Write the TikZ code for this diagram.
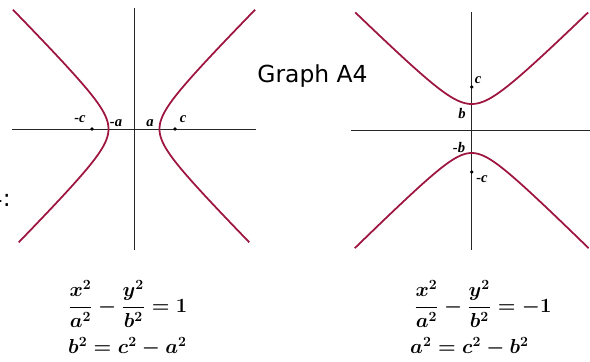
\documentclass[tikz,border=0pt]{standalone}
\usepackage{fontspec}
\usepackage{tikz}
\newfontfamily\grsans{DejaVu Sans}
\newfontfamily\grserif{Liberation Serif}
\definecolor{hypred}{RGB}{158,22,64}

\begin{document}
\begin{tikzpicture}[
    x=0.03cm, y=-0.03cm,
    axis/.style={draw=black!85, line width=0.7pt},
    curve/.style={draw=hypred, line width=1.5pt, smooth},
    focus/.style={circle, fill=black, inner sep=0pt, minimum size=3.2pt},
    lbl/.style={font=\grserif\bfseries\itshape\fontsize{12.5}{12.5}\selectfont, inner sep=0pt},
    eqn/.style={font=\fontsize{17}{20}\selectfont\boldmath, anchor=west, inner sep=0pt},
    title/.style={font=\grsans\fontsize{20}{22}\selectfont, inner sep=0pt}
  ]
    \useasboundingbox (0,0) rectangle (590,361);

    % left graph: x^2/a^2 - y^2/b^2 = 1
    \draw[axis] (134,8) -- (134,250);
    \draw[axis] (12,129) -- (256,129);
    \draw[curve] plot[domain=-2.24:2.19, samples=60, variable=\t] ({134-25.5*cosh(\t)}, {129+25.7*sinh(\t)});
    \draw[curve] plot[domain=-2.24:2.19, samples=60, variable=\t] ({134+25.5*cosh(\t)}, {129+25.7*sinh(\t)});
    \node[focus] (lcneg) at (92,129) {};
    \node[focus] (lcpos) at (175,129) {};
    \node[lbl] (lblcneg) at (80,119) {-c};
    \node[lbl] (lblaneg) at (116,123) {-a};
    \node[lbl] (lblapos) at (150,123) {a};
    \node[lbl] (lblcpos) at (183,119) {c};

    % right graph: x^2/a^2 - y^2/b^2 = -1
    \draw[axis] (471.7,12) -- (471.7,250);
    \draw[axis] (351,130) -- (590,130);
    \draw[curve] plot[domain=-2.19:2.19, samples=60, variable=\t] ({471.7+26.4*sinh(\t)}, {130-26*cosh(\t)});
    \draw[curve] plot[domain=-2.32:2.32, samples=60, variable=\t] ({471.7+23.2*sinh(\t)}, {130+23*cosh(\t)});
    \node[focus] (rcpos) at (471.7,87) {};
    \node[focus] (rcneg) at (471.7,172) {};
    \node[lbl] (lblrc) at (478,80) {c};
    \node[lbl] (lblrb) at (462,113) {b};
    \node[lbl] (lblrbneg) at (459,147) {-b};
    \node[lbl] (lblrcneg) at (482,179) {-c};

    \node[title, anchor=base] (graphname) at (312.5,82) {Graph A4};
    \node[title, anchor=base east] (cutname) at (11,206) {4:};

    % equations under the graphs
    \node[eqn] (lefteq) at (68,304) {$\displaystyle\frac{x^2}{a^2} - \frac{y^2}{b^2} = 1$};
    \node[eqn] (leftrel) at (68,347) {$b^2 = c^2 - a^2$};
    \node[eqn] (righteq) at (414,304) {$\displaystyle\frac{x^2}{a^2} - \frac{y^2}{b^2} = -1$};
    \node[eqn] (rightrel) at (410,347) {$a^2 = c^2 - b^2$};
  \end{tikzpicture}
\end{document}
